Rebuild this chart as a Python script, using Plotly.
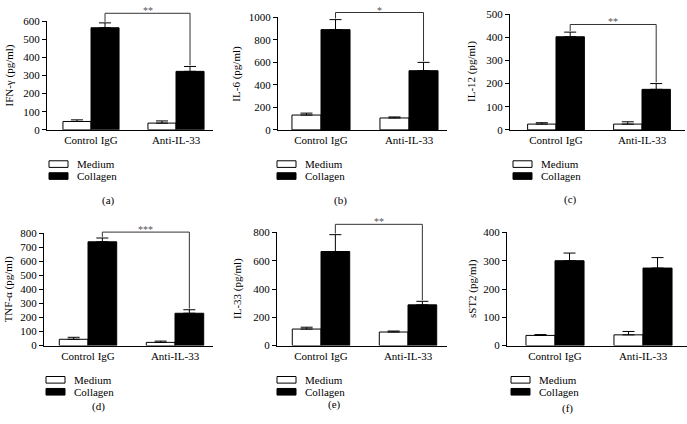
import plotly.graph_objects as go

# ---------------- data ----------------
categories = ["Control IgG", "Anti-IL-33"]
series_names = ["Medium", "Collagen"]

ifng_medium = [46, 37]
ifng_medium_err = [9, 12]
ifng_collagen = [564, 323]
ifng_collagen_err = [27, 27]

il6_medium = [132, 106]
il6_medium_err = [17, 9]
il6_collagen = [891, 526]
il6_collagen_err = [89, 74]

il12_medium = [25, 25]
il12_medium_err = [6, 10]
il12_collagen = [402, 175]
il12_collagen_err = [20, 25]

tnfa_medium = [45, 23]
tnfa_medium_err = [14, 9]
tnfa_collagen = [738, 230]
tnfa_collagen_err = [27, 25]

il33_medium = [117, 96]
il33_medium_err = [13, 7]
il33_collagen = [665, 288]
il33_collagen_err = [119, 25]

sst2_medium = [36, 38]
sst2_medium_err = [3, 12]
sst2_collagen = [300, 274]
sst2_collagen_err = [27, 37]

y_titles = ["IFN-γ (pg/ml)", "IL-6 (pg/ml)", "IL-12 (pg/ml)",
            "TNF-α (pg/ml)", "IL-33 (pg/ml)", "sST2 (pg/ml)"]
y_max = [600, 1000, 500, 800, 800, 400]
y_step = [100, 200, 100, 100, 200, 100]
captions = ["(a)", "(b)", "(c)", "(d)", "(e)", "(f)"]
sig_labels = ["**", "*", "**", "***", "**", None]
sig_level = [644, 1043, 455, 807, 857, None]

medium_all = [ifng_medium, il6_medium, il12_medium, tnfa_medium, il33_medium, sst2_medium]
medium_err_all = [ifng_medium_err, il6_medium_err, il12_medium_err, tnfa_medium_err, il33_medium_err, sst2_medium_err]
collagen_all = [ifng_collagen, il6_collagen, il12_collagen, tnfa_collagen, il33_collagen, sst2_collagen]
collagen_err_all = [ifng_collagen_err, il6_collagen_err, il12_collagen_err, tnfa_collagen_err, il33_collagen_err, sst2_collagen_err]

# ---------------- layout geometry (pixels) ----------------
W, H = 687, 424
FONT = "Liberation Serif"
FS = 11
BARGAP = 0.34
geom = [
    dict(x0=47, x1=213, c0=91, u=85, yb=127.4, yt=15.7, title_x=10, leg_x=49, leg_y=(162.7, 175.0), cap=(108, 200)),
    dict(x0=278, x1=447, c0=321, u=88, yb=127.5, yt=11.7, title_x=237, leg_x=277, leg_y=(162.7, 175.0), cap=(340, 200)),
    dict(x0=510, x1=685, c0=556, u=86, yb=127.5, yt=8.3, title_x=472, leg_x=513, leg_y=(162.7, 175.0), cap=(570, 199)),
    dict(x0=44, x1=213, c0=88, u=87, yb=349.5, yt=233.7, title_x=8, leg_x=46, leg_y=(384.7, 397.0), cap=(98, 412)),
    dict(x0=277, x1=447, c0=321, u=87, yb=349.5, yt=233.0, title_x=237, leg_x=277, leg_y=(384.7, 397.0), cap=(334, 410)),
    dict(x0=507, x1=687, c0=555, u=88, yb=349.5, yt=233.0, title_x=472, leg_x=511, leg_y=(384.7, 397.0), cap=(567, 414)),
]

fig = go.Figure()
shapes = []
annotations = []
layout_axes = {}

for i in range(6):
    n = i + 1
    g = geom[i]
    xa = "x" if n == 1 else f"x{n}"
    ya = "y" if n == 1 else f"y{n}"
    xname = "xaxis" if n == 1 else f"xaxis{n}"
    yname = "yaxis" if n == 1 else f"yaxis{n}"

    fig.add_trace(go.Bar(
        x=categories, y=medium_all[i], name=series_names[0],
        marker=dict(color="white", line=dict(color="black", width=1)),
        error_y=dict(type="data", array=medium_err_all[i], arrayminus=[0, 0],
                     symmetric=False, color="black", thickness=1, width=6),
        xaxis=xa, yaxis=ya, showlegend=False))
    fig.add_trace(go.Bar(
        x=categories, y=collagen_all[i], name=series_names[1],
        marker=dict(color="black", line=dict(color="black", width=1)),
        error_y=dict(type="data", array=collagen_err_all[i], arrayminus=[0, 0],
                     symmetric=False, color="black", thickness=1, width=6),
        xaxis=xa, yaxis=ya, showlegend=False))

    r0 = (g["x0"] - g["c0"]) / g["u"]
    r1 = (g["x1"] - g["c0"]) / g["u"]
    layout_axes[xname] = dict(
        domain=[g["x0"] / W, g["x1"] / W], range=[r0, r1], anchor=ya,
        showline=True, linecolor="black", linewidth=1, ticks="",
        showgrid=False, zeroline=False,
        tickfont=dict(family=FONT, size=FS, color="black"))
    layout_axes[yname] = dict(
        domain=[1 - g["yb"] / H, 1 - g["yt"] / H], range=[0, y_max[i]], anchor=xa,
        tickvals=list(range(0, y_max[i] + 1, y_step[i])),
        ticks="outside", ticklen=4, tickwidth=1, tickcolor="black",
        showline=True, linecolor="black", linewidth=1,
        showgrid=False, zeroline=False,
        tickfont=dict(family=FONT, size=FS, color="black"))

    annotations.append(dict(
        x=g["title_x"] / W, y=1 - ((g["yb"] + g["yt"]) / 2) / H,
        xref="paper", yref="paper", text=y_titles[i], textangle=-90,
        showarrow=False, font=dict(family=FONT, size=FS, color="black"),
        xanchor="center", yanchor="middle"))

    if sig_labels[i]:
        half = (1 - BARGAP) / 4
        xl = (0 + half - r0) / (r1 - r0)
        xr = (1 + half - r0) / (r1 - r0)
        yt = sig_level[i] / y_max[i]
        ylb = (collagen_all[i][0] + collagen_err_all[i][0]) / y_max[i] + 0.01
        yrb = (collagen_all[i][1] + collagen_err_all[i][1]) / y_max[i] + 0.01
        shapes.append(dict(
            type="path", xref=f"{xa} domain", yref=f"{ya} domain",
            path=f"M {xl},{ylb} L {xl},{yt} L {xr},{yt} L {xr},{yrb}",
            line=dict(color="#333333", width=1)))
        annotations.append(dict(
            x=(xl + xr) / 2, y=yt, xref=f"{xa} domain", yref=f"{ya} domain",
            text=sig_labels[i], showarrow=False, yanchor="bottom", yshift=-5,
            font=dict(family=FONT, size=10, color="#555555")))

    for k, (name, fill) in enumerate(zip(series_names, ["white", "black"])):
        yc = g["leg_y"][k]
        shapes.append(dict(
            type="rect", xref="paper", yref="paper",
            x0=g["leg_x"] / W, x1=(g["leg_x"] + 19) / W,
            y0=1 - (yc + 3.4) / H, y1=1 - (yc - 3.4) / H,
            fillcolor=fill, line=dict(color="black", width=1)))
        annotations.append(dict(
            x=(g["leg_x"] + 26) / W, y=1 - yc / H, xref="paper", yref="paper",
            text=name, showarrow=False, xanchor="left", yanchor="middle",
            font=dict(family=FONT, size=FS, color="black")))

    annotations.append(dict(
        x=g["cap"][0] / W, y=1 - g["cap"][1] / H, xref="paper", yref="paper",
        text=captions[i], showarrow=False, xanchor="center", yanchor="middle",
        font=dict(family=FONT, size=FS, color="black")))

fig.update_layout(
    width=W, height=H, margin=dict(l=0, r=0, t=0, b=0),
    paper_bgcolor="white", plot_bgcolor="white",
    barmode="group", bargap=BARGAP, bargroupgap=0,
    shapes=shapes, annotations=annotations,
    font=dict(family=FONT, size=FS, color="black"),
    hovermode=False,
    **layout_axes)

fig.write_html("out.html",
               config={"displayModeBar": False, "staticPlot": True},
               post_script="document.body.style.margin='0';document.body.style.overflow='hidden';")
